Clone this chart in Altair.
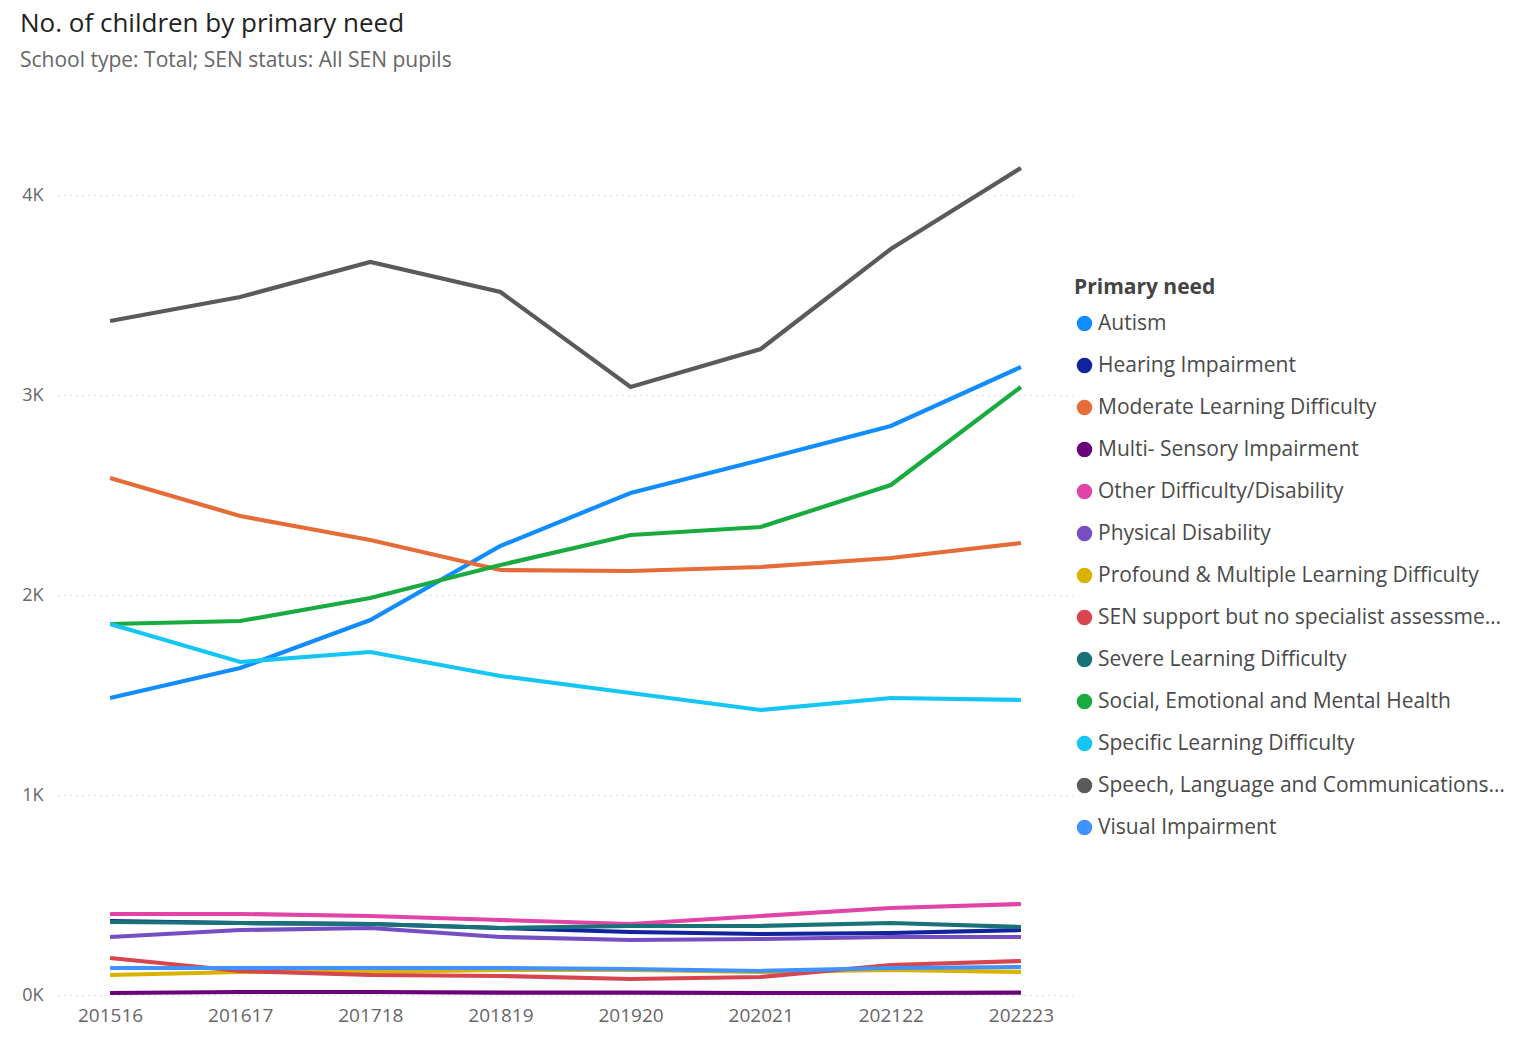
import altair as alt
import pandas as pd

years = ["201516", "201617", "201718", "201819", "201920", "202021", "202122", "202223"]

needs = [
    "Autism",
    "Hearing Impairment",
    "Moderate Learning Difficulty",
    "Multi- Sensory Impairment",
    "Other Difficulty/Disability",
    "Physical Disability",
    "Profound & Multiple Learning Difficulty",
    "SEN support but no specialist assessment of type of need",
    "Severe Learning Difficulty",
    "Social, Emotional and Mental Health",
    "Specific Learning Difficulty",
    "Speech, Language and Communications needs",
    "Visual Impairment",
]

colors = ["#118DFF", "#12239E", "#E66C37", "#6B007B", "#E044A7", "#744EC2", "#D9B300",
          "#D64550", "#197278", "#1AAB40", "#15C6F4", "#5A5A5A", "#4092FF"]

autism = [1485, 1635, 1875, 2245, 2510, 2675, 2845, 3140]
hearing = [370, 360, 355, 335, 315, 305, 310, 325]
moderate = [2585, 2395, 2275, 2125, 2120, 2140, 2185, 2260]
multi_sensory = [10, 15, 15, 12, 12, 10, 10, 12]
other = [405, 405, 395, 375, 355, 395, 435, 455]
physical = [290, 325, 335, 290, 275, 280, 290, 290]
profound = [100, 115, 115, 125, 125, 115, 125, 115]
sen_support = [185, 120, 100, 95, 80, 90, 150, 170]
severe = [365, 360, 355, 335, 345, 345, 360, 340]
semh = [1855, 1870, 1985, 2150, 2300, 2340, 2550, 3040]
specific = [1855, 1665, 1715, 1595, 1510, 1425, 1485, 1475]
speech = [3370, 3490, 3665, 3515, 3040, 3230, 3730, 4135]
visual = [135, 135, 135, 135, 130, 120, 135, 140]

series = [autism, hearing, moderate, multi_sensory, other, physical, profound,
          sen_support, severe, semh, specific, speech, visual]

rows = []
for name, vals in zip(needs, series):
    for yr, v in zip(years, vals):
        rows.append({"Year": yr, "Primary need": name, "Line": name, "Count": v})
df = pd.DataFrame(rows)

FONT = "Open Sans"

x_enc = alt.X("Year:N", sort=years, title=None,
              scale=alt.Scale(type="point", padding=0.4),
              axis=alt.Axis(labelAngle=0, domain=False, ticks=False, grid=False,
                            labelFontSize=19, labelColor="#666666", labelFont=FONT,
                            labelPadding=11))
y_enc = alt.Y("Count:Q", title=None,
              scale=alt.Scale(domain=[0, 4500], nice=False),
              axis=alt.Axis(values=[0, 1000, 2000, 3000, 4000], domain=False, ticks=False,
                            labelExpr="datum.value / 1000 + 'K'",
                            labelFontSize=18, labelColor="#666666", labelFont=FONT,
                            labelPadding=15, grid=True, gridColor="#d0d0d0",
                            gridDash=[1, 5], gridWidth=1.5))

base = alt.Chart(df)

lines = base.mark_line(strokeWidth=4.2).encode(
    x=x_enc, y=y_enc,
    stroke=alt.Stroke("Line:N", scale=alt.Scale(range=colors), legend=None),
)

legend_pts = base.mark_circle(opacity=0, size=1).encode(
    x=x_enc, y=y_enc,
    fill=alt.Fill("Primary need:N",
                  scale=alt.Scale(domain=needs, range=colors),
                  legend=alt.Legend(orient="none", legendX=1016, legendY=182,
                                    title="Primary need", titleFontSize=21,
                                    titleFont=FONT, titleFontWeight="bold",
                                    titleColor="#444444", titlePadding=15,
                                    labelFontSize=21, labelFont=FONT,
                                    labelColor="#4a4a4a", labelLimit=412,
                                    symbolType="circle", symbolSize=240,
                                    symbolStrokeWidth=0, symbolOpacity=1,
                                    labelOffset=3,
                                    rowPadding=20)),
)

chart = alt.layer(lines, legend_pts).properties(
    width=1015,
    height=900,
    title=alt.TitleParams(
        text="No. of children by primary need",
        subtitle="School type: Total; SEN status: All SEN pupils",
        anchor="start", frame="group", dx=-38, offset=24,
        font=FONT, fontSize=26, fontWeight="normal", color="#222222",
        subtitleFont=FONT, subtitleFontSize=21, subtitleColor="#666666",
        subtitlePadding=13,
    ),
    autosize=alt.AutoSizeParams(type="none"),
    padding={"left": 50, "top": 87, "right": 450, "bottom": 36},
).configure_view(stroke=None)

chart.save("out.html", embed_options={"renderer": "svg", "actions": False})
